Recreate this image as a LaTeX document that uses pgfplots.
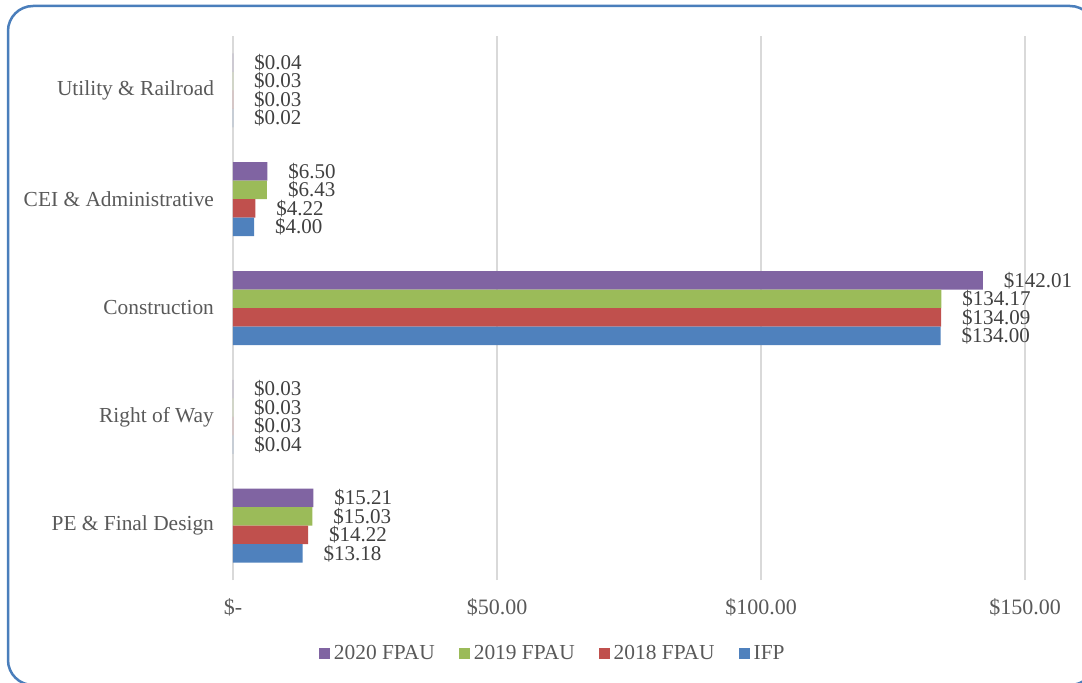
\documentclass[border=0pt]{standalone}
\usepackage{pgfplots}
\pgfplotsset{compat=1.18}
\usepackage{fontspec}
\setmainfont{Liberation Serif}

\definecolor{c2020}{HTML}{8064A2}
\definecolor{c2019}{HTML}{9BBB59}
\definecolor{c2018}{HTML}{C0504D}
\definecolor{cifp}{HTML}{4F81BD}
\definecolor{gridgray}{HTML}{D9D9D9}
\definecolor{txtgray}{HTML}{595959}
\definecolor{lblgray}{HTML}{404040}
\definecolor{frameblue}{HTML}{4A7EBB}

\begin{document}
\begin{tikzpicture}
\begin{axis}[
    at={(116.5pt,51pt)}, anchor=south west,
    scale only axis, width=396pt, height=272pt,
    xbar,
    bar width=0.17,
    xmin=0, xmax=150,
    ymin=-0.5, ymax=4.5,
    clip=false,
    axis line style={draw=none},
    xmajorgrids, major grid style={gridgray, line width=0.75pt},
    major tick length=0,
    xtick={0,50,100,150},
    xticklabels={\$-\hspace{5pt}, \$50.00, \$100.00, \$150.00},
    ytick={0,1,2,3,4},
    yticklabels={PE \& Final Design, Right of Way, Construction, CEI \& Administrative, Utility \& Railroad},
    xticklabel style={font=\fontsize{11}{13}\selectfont, text=txtgray, yshift=-5.5pt},
    yticklabel style={font=\fontsize{10.7}{13}\selectfont, text=txtgray, xshift=-6pt},
    point meta=x,
    nodes near coords={\$\pgfmathprintnumber[fixed, fixed zerofill, precision=2, assume math mode=true]{\pgfplotspointmeta}},
    every node near coord/.append style={anchor=west, xshift=7pt, font=\fontsize{10.5}{12}\selectfont, text=lblgray},
    legend image code/.code={\fill[#1] (0pt,-2.75pt) rectangle (5.5pt,2.75pt);},
    legend columns=4,
    legend style={draw=none, fill=none, at={(0.405,-0.136)}, anchor=center,
        font=\fontsize{10.7}{13}\selectfont, text=txtgray,
        /tikz/every even column/.append style={column sep=10pt}},
    legend cell align=left,
]
\addplot[fill=c2020, draw=none, bar shift=0.255] coordinates {(15.21,0) (0.03,1) (142.01,2) (6.50,3) (0.04,4)};
\addplot[fill=c2019, draw=none, bar shift=0.085] coordinates {(15.03,0) (0.03,1) (134.17,2) (6.43,3) (0.03,4)};
\addplot[fill=c2018, draw=none, bar shift=-0.085] coordinates {(14.22,0) (0.03,1) (134.09,2) (4.22,3) (0.03,4)};
\addplot[fill=cifp, draw=none, bar shift=-0.255] coordinates {(13.18,0) (0.04,1) (134.00,2) (4.00,3) (0.02,4)};
\legend{2020 FPAU, 2019 FPAU, 2018 FPAU, IFP}
\end{axis}
\draw[frameblue, line width=1.25pt, rounded corners=12.5pt] (4pt,-1.5pt) rectangle (547.5pt,338pt);
\pgfresetboundingbox
\path[use as bounding box] (0,0) rectangle (541pt,341pt);
\end{tikzpicture}
\end{document}
